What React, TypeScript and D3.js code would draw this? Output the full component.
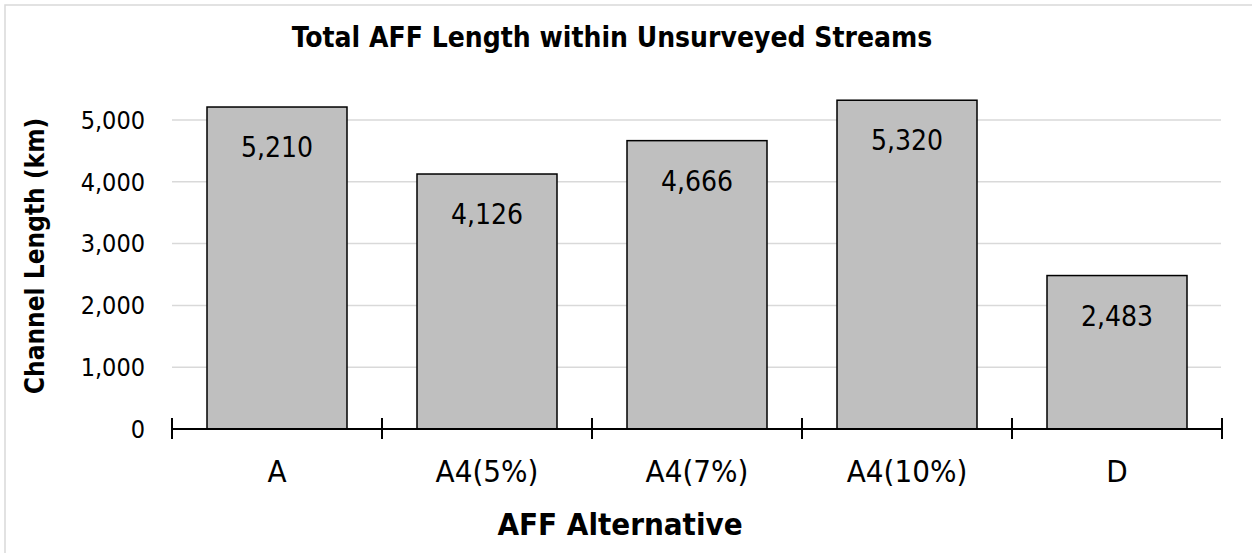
import React from "react";
import * as d3 from "d3";

const categories = ["A", "A4(5%)", "A4(7%)", "A4(10%)", "D"];
const values = [5210, 4126, 4666, 5320, 2483];
const yTicks = [0, 1000, 2000, 3000, 4000, 5000];
const title = "Total AFF Length within Unsurveyed Streams";
const xTitle = "AFF Alternative";
const yTitle = "Channel Length (km)";

const W = 1252;
const H = 553;
const FONT = "'DejaVu Sans Condensed', 'DejaVu Sans', sans-serif";

export default function App() {
  const x = d3
    .scaleBand<string>()
    .domain(categories)
    .range([172, 1222])
    .paddingInner(1 / 3)
    .paddingOuter(1 / 6);
  const y = d3.scaleLinear().domain([0, 5000]).range([429, 120]);
  const fmt = d3.format(",");
  const step = x.step();
  const x0 = 172;
  const boundaries = d3.range(categories.length + 1).map((i) => x0 + i * step);

  return (
    <svg
      width={W}
      height={H}
      style={{ position: "absolute", left: 0, top: 0, display: "block", background: "#fff" }}
      fontFamily={FONT}
      fontStretch="condensed"
    >
      <rect x={5} y={5} width={W + 10} height={H + 10} fill="#fff" stroke="#d9d9d9" strokeWidth={1.5} />
      <text x={612} y={47} textAnchor="middle" fontSize={28} fontWeight="bold" fill="#000">
        {title}
      </text>
      {yTicks.filter((t) => t > 0).map((t) => (
        <line key={t} x1={172} x2={1221} y1={y(t)} y2={y(t)} stroke="#d9d9d9" strokeWidth={1.5} />
      ))}
      {yTicks.map((t) => (
        <text key={t} x={145} y={y(t)} dy="0.35em" textAnchor="end" fontSize={25} fill="#000">
          {fmt(t)}
        </text>
      ))}
      {categories.map((c, i) => (
        <g key={c}>
          <rect
            x={x(c)}
            y={y(values[i])}
            width={x.bandwidth()}
            height={y(0) - y(values[i])}
            fill="#bfbfbf"
            stroke="#000"
            strokeWidth={1.5}
          />
          <text
            x={(x(c) as number) + x.bandwidth() / 2}
            y={y(values[i]) + 50}
            textAnchor="middle"
            fontSize={28}
            fill="#000"
          >
            {fmt(values[i])}
          </text>
          <text
            x={(x(c) as number) + x.bandwidth() / 2}
            y={482}
            textAnchor="middle"
            fontSize={31}
            fill="#000"
          >
            {c}
          </text>
        </g>
      ))}
      <line x1={171} x2={1222} y1={y(0)} y2={y(0)} stroke="#000" strokeWidth={2} />
      {boundaries.map((b, i) => (
        <line key={i} x1={b} x2={b} y1={418} y2={439} stroke="#000" strokeWidth={2} />
      ))}
      <text x={620} y={535} textAnchor="middle" fontSize={31} fontWeight="bold" fill="#000">
        {xTitle}
      </text>
      <text
        transform={`translate(44,256) rotate(-90)`}
        textAnchor="middle"
        fontSize={26}
        fontWeight="bold"
        fill="#000"
      >
        {yTitle}
      </text>
    </svg>
  );
}
